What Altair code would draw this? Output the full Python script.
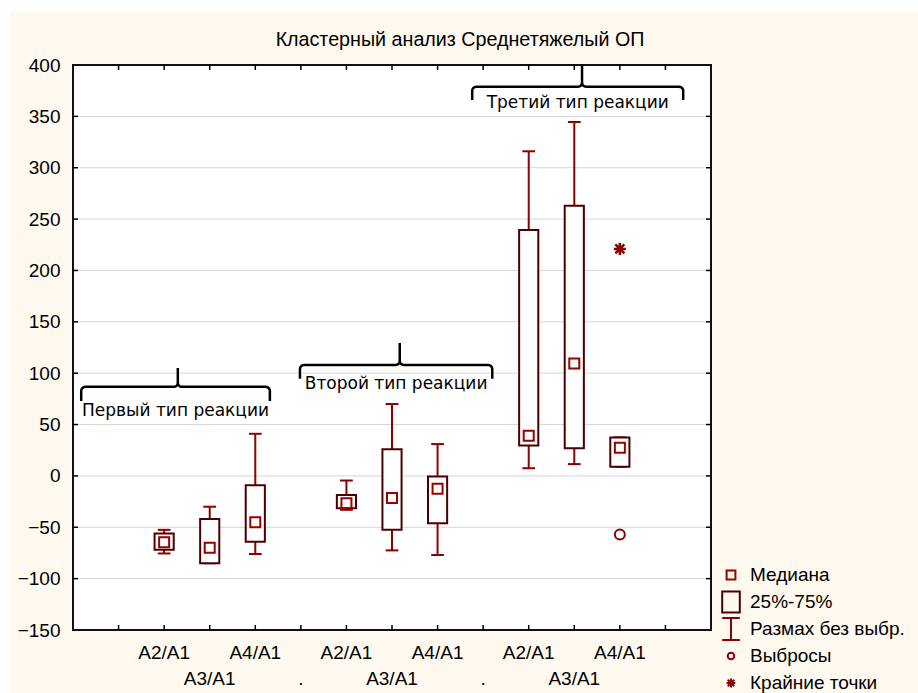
import math
import altair as alt
import pandas as pd

# plot area size in pixels
W, H = 638, 565

TITLE = "Кластерный анализ Среднетяжелый ОП"

# box positions on the x scale: three groups of the A2/A1, A3/A1, A4/A1 ratios
positions = [2, 3, 4, 6, 7, 8, 10, 11, 12]
q1 = [-72, -85, -64, -31.5, -52.5, -46, 29.5, 27, 9]
q3 = [-56, -42, -9, -18.5, 26, -0.5, 239.5, 263, 37.5]
medians = [-64.5, -70, -45, -26.5, -21.5, -12.5, 39, 109.5, 27.5]
whisker_lo = [-75.5, -85, -76, -33, -72.5, -77, 7.5, 11.5, 9]
whisker_hi = [-52.5, -30, 41, -4.5, 70, 31, 316, 344.5, 37.5]

outlier_pos = [12]
outlier_val = [-57]
extreme_pos = [12]
extreme_val = [221]

# category labels under the axis (two staggered rows)
label_pos = [2, 3, 4, 5, 6, 7, 8, 9, 10, 11, 12]
label_text = ["A2/A1", "A3/A1", "A4/A1", ".", "A2/A1", "A3/A1", "A4/A1", ".",
              "A2/A1", "A3/A1", "A4/A1"]
label_row = [0, 1, 0, 1, 0, 1, 0, 1, 0, 1, 0]

y_ticks = list(range(-150, 401, 50))
x_ticks = list(range(1, 14))

# curly brackets grouping the reaction types
bracket_names = ["Первый тип реакции", "Второй тип реакции", "Третий тип реакции"]
bracket_left = [0.18, 4.98, 8.76]
bracket_right = [4.32, 9.20, 13.39]
bracket_tip_x = [2.30, 7.17, 11.17]
bracket_base = [86.7, 108, 378.8]
bracket_end = [73, 94.5, 366]
bracket_tip = [105, 129.5, 400]
bracket_text_y = [63, 89.6, 363]

legend_labels = ["Медиана", "25%-75%", "Размах без выбр.", "Выбросы", "Крайние точки"]
legend_paths = [
    "M-0.4,-0.4H0.4V0.4H-0.4Z",
    "M-0.8,-0.95H0.8V0.95H-0.8Z",
    "M-0.8,-1H0.8M0,-1V1M-0.8,1H0.8",
    "M0.3,0A0.3,0.3 0 1,1 -0.3,0A0.3,0.3 0 1,1 0.3,0Z",
    "M-0.4,0H0.4M0,-0.4V0.4M-0.3,-0.3L0.3,0.3M-0.3,0.3L0.3,-0.3",
]
legend_colors = ["#990000", "#4b0000", "#8b0000", "#8b0000", "#8b0000"]

BOX = "#4b0000"
WHISK = "#8b0000"
FONT = "Liberation Sans"
FS = 19

xs = alt.Scale(domain=[0, 14], nice=False, zero=False)
ys = alt.Scale(domain=[-150, 400], nice=False, zero=False)

yaxis = alt.Axis(values=y_ticks, title=None, grid=False, ticks=False, domain=False,
                 labelFont=FONT, labelFontSize=FS, labelColor="black", labelPadding=13)


def X(field):
    return alt.X(field, type="quantitative", scale=xs, axis=None)


def Y(field):
    return alt.Y(field, type="quantitative", scale=ys, axis=yaxis)


boxes = pd.DataFrame(dict(pos=positions, q1=q1, q3=q3, med=medians,
                          lo=whisker_lo, hi=whisker_hi))

points = pd.DataFrame(dict(
    pos=positions + outlier_pos + extreme_pos,
    val=medians + outlier_val + extreme_val,
    kind=["Медиана"] * len(positions) + ["Выбросы"] * len(outlier_pos)
    + ["Крайние точки"] * len(extreme_pos),
))

labels = pd.DataFrame(dict(pos=label_pos, label=label_text, row=label_row))


def bracket_rows(i, n=6):
    xl, xr, xp = bracket_left[i], bracket_right[i], bracket_tip_x[i]
    yb, ye, yp = bracket_base[i], bracket_end[i], bracket_tip[i]
    rx, ry = 0.09, 4.0
    pts = [(xl, ye)]

    def arc(cx, cy, a0, a1):
        for k in range(n + 1):
            t = math.radians(a0 + (a1 - a0) * k / n)
            pts.append((cx + rx * math.cos(t), cy + ry * math.sin(t)))

    arc(xl + rx, yb - ry, 180, 90)
    arc(xp - rx, yb + ry, 270, 360)
    pts.append((xp, yp))
    arc(xp + rx, yb + ry, 180, 270)
    arc(xr - rx, yb - ry, 90, 0)
    pts.append((xr, ye))
    return [dict(name=bracket_names[i], order=k, x=px, y=py)
            for k, (px, py) in enumerate(pts)]


bracket_df = pd.DataFrame([r for i in range(len(bracket_names)) for r in bracket_rows(i)])
bracket_lbl = pd.DataFrame(dict(
    name=bracket_names,
    xm=[(a + b) / 2 for a, b in zip(bracket_left, bracket_right)],
    ty=bracket_text_y,
))

one = pd.DataFrame({"k": [0]})

# white page strip along the top and left edges
strip_top = alt.Chart(one).mark_rect(color="white").encode(
    x=alt.value(-73), x2=alt.value(W + 207), y=alt.value(-65), y2=alt.value(-53))
strip_left = alt.Chart(one).mark_rect(color="white").encode(
    x=alt.value(-73), x2=alt.value(-63), y=alt.value(-65), y2=alt.value(H + 63))

title = alt.Chart(one).mark_text(font=FONT, fontSize=19.7, color="black",
                                 baseline="middle", align="center").encode(
    x=alt.value(W / 2 + 68), y=alt.value(-25), text=alt.value(TITLE))

grid = alt.Chart(pd.DataFrame({"v": y_ticks})).mark_rule(
    color="#d6d6d6", strokeWidth=1).encode(
    y=Y("v"), x=alt.value(0), x2=alt.value(W)
).transform_filter("datum.v > -150 && datum.v < 400")

yt = pd.DataFrame({"v": y_ticks[1:-1]})
xt = pd.DataFrame({"p": x_ticks})
tick_l = alt.Chart(yt).mark_rule(color="black", strokeWidth=1.5).encode(
    y=Y("v"), x=alt.value(0), x2=alt.value(5))
tick_r = alt.Chart(yt).mark_rule(color="black", strokeWidth=1.5).encode(
    y=Y("v"), x=alt.value(W - 5), x2=alt.value(W))
tick_b = alt.Chart(xt).mark_rule(color="black", strokeWidth=1.5).encode(
    x=X("p"), y=alt.value(H - 5), y2=alt.value(H))
tick_t = alt.Chart(xt).mark_rule(color="black", strokeWidth=1.5).encode(
    x=X("p"), y=alt.value(0), y2=alt.value(5))

base = alt.Chart(boxes).transform_calculate(
    b0="datum.pos - 0.21", b1="datum.pos + 0.21",
    c0="datum.pos - 0.14", c1="datum.pos + 0.14")

wh_lo = base.mark_rule(color=WHISK, strokeWidth=2).encode(x=X("pos"), y=Y("lo"), y2="q1:Q")
wh_hi = base.mark_rule(color=WHISK, strokeWidth=2).encode(x=X("pos"), y=Y("q3"), y2="hi:Q")
cap_lo = base.mark_rule(color=WHISK, strokeWidth=2).encode(x=X("c0"), x2="c1:Q", y=Y("lo"))
cap_hi = base.mark_rule(color=WHISK, strokeWidth=2).encode(x=X("c0"), x2="c1:Q", y=Y("hi"))
box = base.mark_rect(fill="white", stroke=BOX, strokeWidth=2).encode(
    x=X("b0"), x2="b1:Q", y=Y("q1"), y2="q3:Q")

legend = alt.Legend(title=None, orient="none", legendX=646, legendY=498,
                    symbolSize=484, symbolStrokeWidth=2, labelFont=FONT,
                    labelFontSize=FS, labelColor="black", labelOffset=7,
                    rowPadding=-4, padding=0, gridAlign="all")
shape_enc = alt.Shape("kind:N", scale=alt.Scale(domain=legend_labels, range=legend_paths),
                      legend=legend)
color_enc = alt.Color("kind:N", scale=alt.Scale(domain=legend_labels, range=legend_colors),
                      legend=legend)

pts_base = alt.Chart(points)
med_pts = pts_base.mark_point(filled=False, size=625, strokeWidth=2, opacity=1).encode(
    x=X("pos"), y=Y("val"), shape=shape_enc, color=color_enc
).transform_filter("datum.kind == 'Медиана'")
out_pts = pts_base.mark_point(filled=False, size=1100, strokeWidth=2, opacity=1).encode(
    x=X("pos"), y=Y("val"), shape=shape_enc, color=color_enc
).transform_filter("datum.kind == 'Выбросы'")
ext_pts = pts_base.mark_point(filled=False, size=900, strokeWidth=2.5, opacity=1).encode(
    x=X("pos"), y=Y("val"), shape=shape_enc, color=color_enc
).transform_filter("datum.kind == 'Крайние точки'")

brackets = alt.Chart(bracket_df).mark_line(color="black", strokeWidth=2.5).encode(
    x=X("x"), y=Y("y"), detail="name:N", order="order:Q")
bracket_text = alt.Chart(bracket_lbl).mark_text(
    font="DejaVu Sans", fontSize=17, color="black", baseline="middle").encode(
    x=X("xm"), y=Y("ty"), text="name:N")

row1 = alt.Chart(labels).mark_text(font=FONT, fontSize=FS, color="black",
                                   baseline="middle").encode(
    x=X("pos"), y=alt.value(H + 23), text="label:N").transform_filter("datum.row == 0")
row2 = alt.Chart(labels).mark_text(font=FONT, fontSize=FS, color="black",
                                   baseline="middle").encode(
    x=X("pos"), y=alt.value(H + 49), text="label:N").transform_filter("datum.row == 1")

chart = alt.layer(
    strip_top, strip_left, title, grid, tick_l, tick_r, tick_b, tick_t,
    wh_lo, wh_hi, cap_lo, cap_hi, box, med_pts, out_pts, ext_pts,
    brackets, bracket_text, row1, row2,
).properties(
    width=W, height=H,
    autosize=alt.AutoSizeParams(type="none"),
    padding={"left": 73, "top": 65, "right": 207, "bottom": 63},
).configure(background="#FFF9EF").configure_view(
    fill="white", stroke="#111111", strokeWidth=2)

chart.save("out.html", embed_options={"renderer": "svg", "actions": False})
